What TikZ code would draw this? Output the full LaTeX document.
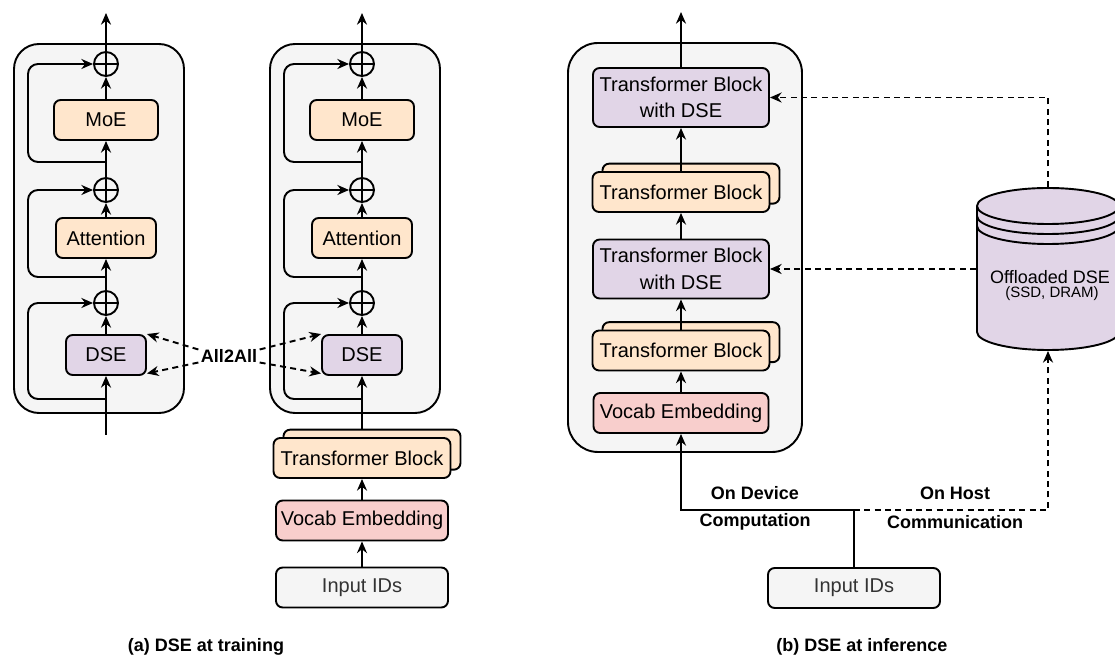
\documentclass[tikz,border=0pt]{standalone}
\usepackage{fontspec}
\setmainfont{Liberation Sans}
\usetikzlibrary{arrows.meta,shadows}

\begin{document}
\begin{tikzpicture}[x=0.6pt, y=-0.6pt, line width=1.15pt,
	>={Stealth[length=7pt,width=6pt]},
	panel/.style={draw, fill=panelColor, rounded corners=#1},
	blk/.style={draw, rounded corners=4pt, minimum height=24pt, inner sep=0pt,
		align=center, font=\fontsize{12}{16}\selectfont},
	orangeblk/.style={blk, fill=moeColor, minimum width=#1},
	dseblk/.style={blk, fill=dseColor, minimum width=#1},
	vocabblk/.style={blk, fill=vocabColor, minimum width=#1},
	inputblk/.style={blk, fill=panelColor, text=inputText, minimum width=#1},
	stackblk/.style={orangeblk=106.2pt,
		copy shadow={shadow xshift=6pt, shadow yshift=5pt, fill=moeColor, draw=black}},
	oplus/.style={draw, circle, minimum size=14.4pt, inner sep=0pt,
		path picture={\draw (path picture bounding box.north) -- (path picture bounding box.south)
			(path picture bounding box.west) -- (path picture bounding box.east);}},
	dashline/.style={dash pattern=on 3.6pt off 2.6pt},
	note/.style={font=\bfseries\fontsize{10.8}{13}\selectfont, inner sep=1pt},
	skip/.style={->, rounded corners=6pt}
	]
	
	% ---- Adjustable colors ----
	\definecolor{panelColor}{HTML}{F5F5F5}
	\definecolor{moeColor}{HTML}{FFE6CC}
	\definecolor{dseColor}{HTML}{E1D5E7}
	\definecolor{vocabColor}{HTML}{F8CECC}
	\definecolor{inputText}{HTML}{333333}
	
	\useasboundingbox (0,0) rectangle (1115,660);
	
	% ---- (a) input stack below the second block ----
	\node[stackblk] (tbA) at (362,458) {Transformer Block};
	\node[vocabblk=103.2pt] (vocA) at (362,520.5) {Vocab Embedding};
	\node[inputblk=103.2pt] (inA) at (362,587.5) {Input IDs};
	\draw[->] (inA) -- (vocA);
	\draw[->] (vocA) -- (tbA);
	
	\coordinate (inL) at (106,435);
	\coordinate (inR) at ([yshift=5pt]tbA.north);
	
	% ---- (a) two training blocks ----
	\foreach \x/\n in {106/L, 362/R}
	{
		\draw[panel=15pt] (\x-92,44) rectangle (\x+78,413);
		\node[dseblk=48pt] (dse\n) at (\x,355) {DSE};
		\node[orangeblk=60pt] (att\n) at (\x,238) {Attention};
		\node[orangeblk=62.4pt] (moe\n) at (\x,120) {MoE};
		\foreach \k/\y in {1/303, 2/190, 3/64}
			\node[oplus] (p\k\n) at (\x,\y) {};
		\coordinate (out\n) at (\x,13);
		\coordinate (s1\n) at (\x,399);
		\coordinate (s2\n) at (\x,277);
		\coordinate (s3\n) at (\x,162);
		
		\foreach \a/\b in {in/dse, dse/p1, p1/att, att/p2, p2/moe, moe/p3, p3/out}
			\draw[->] (\a\n) -- (\b\n);
		\foreach \k in {1,2,3}
			\draw[skip] (s\k\n) -- ++(-78,0) |- (p\k\n);
	}
	
	% ---- All2All exchange ----
	\node[note] (a2a) at (229,356) {All2All};
	\draw[dashline,->] ([yshift=3.9pt]a2a.west) -- (dseL.north east);
	\draw[dashline,->] ([yshift=-3.9pt]a2a.west) -- ([yshift=1.5pt]dseL.south east);
	\draw[dashline,->] ([yshift=3.9pt]a2a.east) -- (dseR.north west);
	\draw[dashline,->] ([yshift=-3.9pt]a2a.east) -- ([yshift=1.5pt]dseR.south west);
	
	% ---- (b) inference stack ----
	\draw[panel=18pt] (568,43) rectangle (802,452);
	\node[dseblk=105.6pt, minimum height=35.4pt] (tbd1) at (681,97.5) {Transformer Block\\with DSE};
	\node[stackblk] (tb1) at (681,192) {Transformer Block};
	\node[dseblk=105.6pt, minimum height=35.4pt] (tbd2) at (681,269) {Transformer Block\\with DSE};
	\node[stackblk] (tb2) at (681,350.5) {Transformer Block};
	\node[vocabblk=105pt] (vocB) at (681,413) {Vocab Embedding};
	\node[inputblk=103.2pt] (inB) at (854,588) {Input IDs};
	\coordinate (outB) at (681,12);
	\coordinate (jB) at (854,510);
	
	\foreach \a/\b in {vocB/tb2, tb2/tbd2, tbd2/tb1, tb1/tbd1, tbd1/outB}
		\draw[->] (\a) -- (\b);
	
	% ---- Offloaded storage ----
	\filldraw[fill=dseColor] (977,206) -- (977,332)
		arc[start angle=180, end angle=0, x radius=71, y radius=18] -- (1119,206)
		arc[start angle=0, end angle=-180, x radius=71, y radius=18] -- cycle;
	\foreach \dy in {0,10,20}
		\draw (977,206+\dy) arc[start angle=180, end angle=0, x radius=71, y radius=18];
	\node[minimum width=85.2pt, minimum height=97.2pt, inner sep=0pt] (db) at (1048,269) {};
	\node[font=\fontsize{10.8}{13}\selectfont, inner sep=0pt] (store) at (1050,277) {Offloaded DSE};
	\node[font=\fontsize{9}{11}\selectfont, inner sep=0pt] (storeNote) at (1052,294) {(SSD, DRAM)};
	
	\draw[dashline,->] (db.north) |- (tbd1);
	\draw[dashline,->] (db.west) -- (tbd2);
	
	% ---- Device / host split ----
	\draw (inB) -- (jB);
	\draw[->] (jB) -| (vocB);
	\draw[dashline,->] (jB) -| (db.south);
	\node[note] (devA) at (755,493) {On Device};
	\node[note] (devB) at (755,522) {Computation};
	\node[note] (hostA) at (955,493) {On Host};
	\node[note] (hostB) at (955,522) {Communication};
	
	% ---- Captions ----
	\node[note] (capA) at (206,647) {(a) DSE at training};
	\node[note] (capB) at (862,647) {(b) DSE at inference};
	
\end{tikzpicture}
\end{document}
